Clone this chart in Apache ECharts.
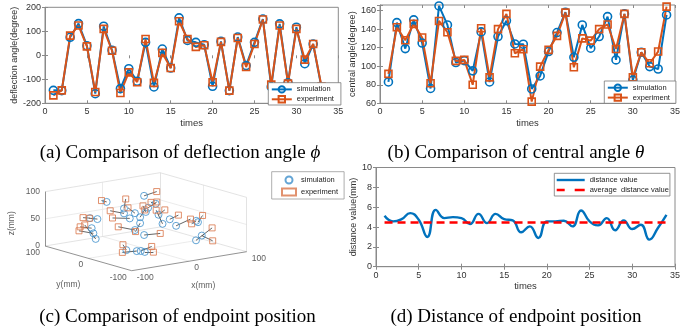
<!DOCTYPE html>
<html>
<head>
<meta charset="utf-8">
<script src="https://cdn.jsdelivr.net/npm/echarts@6/dist/echarts.min.js"></script>
<style>
  html, body { margin: 0; padding: 0; background: #fff; }
  #chart { width: 697px; height: 332px; }
</style>
</head>
<body>
<div id="chart"></div>
<script>
// ---- data ----
const times = [1, 2, 3, 4, 5, 6, 7, 8, 9, 10, 11, 12, 13, 14, 15, 16, 17, 18, 19, 20, 21, 22, 23, 24, 25, 26, 27, 28, 29, 30, 31, 32, 33, 34]

// (a) deflection angle phi (degree)
const deflectionSim = [-146, -147, 75, 132, 40, -160, 121, 21, -139, -56, -108, 54, -132, 26, -53, 156, 62, 54, 44, -129, 58, -147, 76, -43, 54, 151, -132, 131, -115, 117, -35, 47, -135, -150]
const deflectionExp = [-167, -146, 82, 124, 37, -153, 110, 19, -157, -71, -112, 68, -115, 10, -53, 142, 68, 35, 42, -112, 56, -147, 72, -49, 47, 149, -122, 124, -118, 110, -18, 47, -130, -145]

// (b) central angle theta (degree)
const centralSim = [83, 147, 119, 150, 125, 76, 165, 144.5, 104, 106, 95, 137, 83, 132, 149, 124, 123.7, 75.5, 89.5, 115.8, 136.3, 158.2, 109.6, 144.5, 119.4, 132, 153.5, 106.8, 156.4, 85, 115, 99.6, 97, 155.3]
const centralExp = [91.7, 142, 128, 145.6, 130.9, 81.6, 148.8, 136.6, 105.7, 106.8, 80, 141, 88, 140, 156.4, 114, 118.3, 61.8, 99.6, 117.6, 132.7, 157.8, 98.8, 130, 127.6, 140, 145, 118.6, 156.4, 88, 115, 103.2, 115.8, 164.3]

// (c) endpoint positions (mm)
const endSimX = [12, -38, -38, -19, -38, -28, -19, -10, -52, -39, -49, -46, -42, -64, -46, -39, -32, 17, 4, -10, 22, 29, 19, 30, 65, 68, 42, 52, 0, -3]
const endSimY = [20, 40, 0, 0, 0, 0, 0, 0, 60, 60, 60, 60, 60, -40, -40, -40, -40, 0, 0, 0, 0, 0, -30, -30, -30, -30, -60, -60, 0, 0]
const endSimZ = [91, 84, 81, 69, 72, 61, 38, 49, 52, 48, 33, 23, 12, 18, 13, 12, 9, 80, 75, 60, 59, 41, 58, 44, 47, 44, 22, 29, 68, 26]
const endExpX = [34, -47, -35, -31, -62, -58, -48, -18, -64, -53, -69, -71, -61, -70, -71, -20, -17, 9, 19, -2, 33, 18, 34, 55, 57, 76, 70, 71, -5, 25]
const endExpY = [20, 40, 0, 0, 0, 0, 0, 0, 60, 60, 60, 60, 60, -40, -40, -40, -40, 0, 0, 0, 0, 0, -30, -30, -30, -30, -60, -60, 0, 0]
const endExpZ = [95, 88, 98, 81, 81, 67, 49, 35, 55, 52, 39, 32, 41, 29, 15, 17, 6, 84, 83, 72, 66, 68, 63, 52, 43, 55, 40, 16, 80, 24]
const xLim = [-100, 100]
const yLim = [-100, 100]
const zLim = [0, 100]
const xyTicks = [-100, 0, 100]
const zTicks = [0, 50, 100]

// (d) endpoint distance (mm)
const distance = [5.13, 4.57, 4.8, 5.4, 4.73, 3.0, 5.73, 4.9, 5.0, 4.9, 4.3, 5.33, 4.4, 5.33, 4.8, 4.67, 3.47, 4.07, 2.9, 4.57, 4.57, 4.63, 4.07, 5.67, 4.57, 4.17, 4.9, 3.67, 4.67, 3.8, 4.23, 2.73, 3.9, 5.23]
const avgDistance = 4.45

const legendText = {
  'a-sim': 'simulation', 'a-exp': 'experiment',
  'b-sim': 'simulation', 'b-exp': 'experiment',
  'c-sim': 'simulation', 'c-exp': 'experiment',
  'd-dist': 'distance value', 'd-avg': 'average  distance value'
}

// ---- style ----
const BLUE = '#0072BD'
const ORANGE = '#D95319'
const BOX = '#8a8a8a'
const TXT = '#333'
const SANS = '"Liberation Sans", Arial, sans-serif'
const SERIF = '"Liberation Serif", "Times New Roman", serif'

// simple fixed view for the 3D box (pixels per mm)
const view = { cx: 145.85, cy: 248.85, ex: [0.575, -0.095], ey: [-0.4335, -0.1235], ez: [0, -0.543] }
function project(p) {
  return [
    view.cx + view.ex[0] * p[0] + view.ey[0] * p[1] + view.ez[0] * p[2],
    view.cy + view.ex[1] * p[0] + view.ey[1] * p[1] + view.ez[1] * p[2]
  ]
}

const chart = echarts.init(document.getElementById('chart'), null, { renderer: 'canvas' })

function xAxisOf(gridIndex, nameGap) {
  return {
    gridIndex, type: 'value', min: 0, max: 35, interval: 5,
    name: 'times', nameLocation: 'middle', nameGap,
    nameTextStyle: { color: TXT, fontSize: 9.5, fontFamily: SANS },
    axisLine: { onZero: false, lineStyle: { color: BOX, width: 1 } },
    axisTick: { inside: true, length: 3, lineStyle: { color: BOX } },
    axisLabel: { color: TXT, fontSize: 9, fontFamily: SANS, margin: 4 },
    splitLine: { show: false }
  }
}
function yAxisOf(gridIndex, name, min, max, interval, nameGap) {
  return {
    gridIndex, type: 'value', min, max, interval,
    name, nameLocation: 'middle', nameGap,
    nameTextStyle: { color: TXT, fontSize: 9, fontFamily: SANS },
    axisLine: { show: true, lineStyle: { color: BOX, width: 1 } },
    axisTick: { inside: true, length: 3, lineStyle: { color: BOX } },
    axisLabel: {
      color: TXT, fontSize: 9, fontFamily: SANS, margin: 4,
      formatter: v => (Math.abs(v / interval - Math.round(v / interval)) < 1e-6 ? String(v) : '')
    },
    splitLine: { show: false }
  }
}
// mirrored tick marks on the top / right edges (box on)
function mirrorAxis(gridIndex, position, min, max, interval) {
  return {
    gridIndex, type: 'value', position, min, max, interval,
    axisLine: { show: false },
    axisTick: { inside: true, length: 3, lineStyle: { color: BOX } },
    axisLabel: { show: false },
    splitLine: { show: false }
  }
}
function hiddenAxis(gridIndex, max, inverse) {
  return { gridIndex, type: 'value', min: 0, max, inverse, show: false, splitLine: { show: false } }
}

function markerLine(name, xi, values, color, symbol, size) {
  return {
    name, type: 'line', xAxisIndex: xi, yAxisIndex: xi,
    data: times.map((t, i) => [t, values[i]]),
    symbol, symbolSize: size,
    lineStyle: { color, width: 2 },
    itemStyle: { color: 'rgba(255,255,255,0)', borderColor: color, borderWidth: 1.6 },
    emphasis: { disabled: true }, z: 2
  }
}

function legendOf(names, left, top, opts) {
  return Object.assign({
    data: names, left, top, orient: 'vertical', selectedMode: false,
    formatter: n => legendText[n],
    backgroundColor: '#fff', borderColor: '#777', borderWidth: 0.8, borderRadius: 0,
    textStyle: { fontSize: 7.5, color: '#222', fontFamily: SANS },
    itemWidth: 20, itemHeight: 8, itemGap: 1.5, padding: [2.5, 6, 1.5, 2.5], z: 10
  }, opts)
}

// ---- 3D box pieces ----
const X0 = xLim[0], X1 = xLim[1], Y0 = yLim[0], Y1 = yLim[1], Z0 = zLim[0], Z1 = zLim[1]
const backEdges = [
  [[X0, Y1, Z1], [X1, Y1, Z1]], [[X1, Y1, Z1], [X1, Y0, Z1]],
  [[X1, Y1, Z0], [X1, Y1, Z1]], [[X1, Y0, Z0], [X1, Y0, Z1]],
  [[X0, Y1, Z0], [X1, Y1, Z0]], [[X1, Y1, Z0], [X1, Y0, Z0]]
]
const gridEdges = [
  [[0, Y0, Z0], [0, Y1, Z0]], [[X0, 0, Z0], [X1, 0, Z0]],
  [[0, Y1, Z0], [0, Y1, Z1]], [[X0, Y1, 50], [X1, Y1, 50]],
  [[X1, 0, Z0], [X1, 0, Z1]], [[X1, Y1, 50], [X1, Y0, 50]]
]
const axisEdges = [
  [[X0, Y1, Z0], [X0, Y1, Z1]], [[X0, Y1, Z0], [X0, Y0, Z0]], [[X0, Y0, Z0], [X1, Y0, Z0]]
]
const toLines = edges => edges.map(e => ({ coords: [project(e[0]), project(e[1])] }))

const simPts = endSimX.map((x, i) => project([x, endSimY[i], endSimZ[i]]))
const expPts = endExpX.map((x, i) => project([x, endExpY[i], endExpZ[i]]))
const pairLines = simPts.map((p, i) => ({ coords: [p, expPts[i]] }))

const tickLabels = []
zTicks.forEach(z => {
  const p = project([X0, Y1, z])
  tickLabels.push({ value: [p[0] - 5, p[1]], label: { formatter: String(z), align: 'right' } })
})
xyTicks.forEach(y => {
  const p = project([X0, y, Z0])
  tickLabels.push({ value: [p[0] - 5, p[1] + 6.5], label: { formatter: String(y), align: 'right' } })
})
xyTicks.forEach(x => {
  const p = project([x, Y0, Z0])
  tickLabels.push({ value: [p[0] + 5, p[1] + 6.5], label: { formatter: String(x), align: 'left' } })
})
{
  const py = project([X0, 0, Z0]), px = project([0, Y0, Z0]), pz = project([X0, Y1, 50])
  tickLabels.push({ value: [py[0] - 20, py[1] + 26.7], label: { formatter: 'y(mm)', align: 'center' } })
  tickLabels.push({ value: [px[0] + 14, px[1] + 24.5], label: { formatter: 'x(mm)', align: 'center' } })
  tickLabels.push({ value: [pz[0] - 33, pz[1] + 4.4], label: { formatter: 'z(mm)', align: 'center', rotate: 90 } })
}

function caption(x, y, text) {
  return {
    type: 'text', x, y, silent: true,
    style: {
      text, fill: '#000', fontSize: 19, fontFamily: SERIF, align: 'center', verticalAlign: 'middle',
      rich: { i: { fontStyle: 'italic', fontSize: 19, fontFamily: SERIF } }
    }
  }
}

const option = {
  animation: false,
  backgroundColor: '#fff',
  grid: [
    { left: 45, top: 7.3, width: 293.3, height: 96, show: true, borderColor: BOX, borderWidth: 1, backgroundColor: '#fff' },
    { left: 380, top: 5, width: 295, height: 98.3, show: true, borderColor: BOX, borderWidth: 1, backgroundColor: '#fff' },
    { left: 376, top: 167.5, width: 299, height: 99.2, show: true, borderColor: BOX, borderWidth: 1, backgroundColor: '#fff' },
    { left: 0, top: 0, width: 697, height: 332, show: false }
  ],
  xAxis: [
    xAxisOf(0, 15), xAxisOf(1, 15), xAxisOf(2, 14.5), hiddenAxis(3, 697, false),
    mirrorAxis(0, 'top', 0, 35, 5), mirrorAxis(1, 'top', 0, 35, 5), mirrorAxis(2, 'top', 0, 35, 5)
  ],
  yAxis: [
    yAxisOf(0, 'deflection angle(degree)', -200, 200, 100, 23),
    yAxisOf(1, 'central angle(degree)', 60, 166, 20, 18),
    yAxisOf(2, 'distance value(mm)', 0, 10, 2, 14),
    hiddenAxis(3, 332, true),
    mirrorAxis(0, 'right', -200, 200, 100), mirrorAxis(1, 'right', 60, 166, 20), mirrorAxis(2, 'right', 0, 10, 2)
  ],
  legend: [
    legendOf(['a-sim', 'a-exp'], 268.3, 82.7, { padding: [2.5, 7, 1.5, 2.5] }),
    legendOf(['b-sim', 'b-exp'], 604.3, 81, { padding: [2.5, 6, 1.5, 2.5] }),
    legendOf(['c-sim', 'c-exp'], 271.7, 171.7, { itemWidth: 14, itemHeight: 7, itemGap: 3, padding: [3.8, 6, 2.5, 9.3], borderColor: '#999' }),
    legendOf([
      { name: 'd-dist', icon: 'path://M0,0L28,0L28,2.4L0,2.4Z' },
      { name: 'd-avg', icon: 'path://M0,0L8,0L8,2.4L0,2.4Z M18,0L28,0L28,2.4L18,2.4Z' }
    ], 554.3, 173.3, { itemWidth: 28, itemHeight: 8, itemGap: 2, padding: [2.7, 1, 2, 2.4] })
  ],
  graphic: [
    caption(180, 153.3, '(a) Comparison of deflection angle {i|ϕ}'),
    caption(516, 153.3, '(b) Comparison of central angle {i|θ}'),
    caption(177.5, 316.7, '(c) Comparison of endpoint position'),
    caption(516, 316.7, '(d) Distance of endpoint position')
  ],
  series: [
    markerLine('a-sim', 0, deflectionSim, BLUE, 'circle', 8),
    markerLine('a-exp', 0, deflectionExp, ORANGE, 'rect', 7),
    markerLine('b-sim', 1, centralSim, BLUE, 'circle', 8),
    markerLine('b-exp', 1, centralExp, ORANGE, 'rect', 7),
    {
      name: 'd-dist', type: 'line', xAxisIndex: 2, yAxisIndex: 2,
      data: times.map((t, i) => [t, distance[i]]),
      smooth: 0.5, symbol: 'none', lineStyle: { color: BLUE, width: 2.4 }, itemStyle: { color: BLUE }, z: 2
    },
    {
      name: 'd-avg', type: 'line', xAxisIndex: 2, yAxisIndex: 2,
      data: [[times[0], avgDistance], [times[times.length - 1], avgDistance]],
      symbol: 'none', lineStyle: { color: '#FF0000', width: 2.4, type: [8, 5] }, itemStyle: { color: '#FF0000' }, z: 3
    },
    {
      type: 'lines', coordinateSystem: 'cartesian2d', xAxisIndex: 3, yAxisIndex: 3, silent: true,
      data: toLines(gridEdges), lineStyle: { color: '#e6e6e6', width: 0.8, opacity: 1 }, z: 1
    },
    {
      type: 'lines', coordinateSystem: 'cartesian2d', xAxisIndex: 3, yAxisIndex: 3, silent: true,
      data: toLines(backEdges), lineStyle: { color: '#dcdcdc', width: 0.8, opacity: 1 }, z: 1
    },
    {
      type: 'lines', coordinateSystem: 'cartesian2d', xAxisIndex: 3, yAxisIndex: 3, silent: true,
      data: toLines(axisEdges), lineStyle: { color: '#777', width: 0.8, opacity: 1 }, z: 1
    },
    {
      type: 'lines', coordinateSystem: 'cartesian2d', xAxisIndex: 3, yAxisIndex: 3, silent: true,
      data: pairLines, lineStyle: { color: '#222', width: 0.7, opacity: 1 }, z: 2
    },
    {
      name: 'c-sim', type: 'scatter', xAxisIndex: 3, yAxisIndex: 3, data: simPts,
      symbol: 'circle', symbolSize: 7,
      itemStyle: { color: 'rgba(255,255,255,0)', borderColor: '#3d8fcb', borderWidth: 1 }, z: 3
    },
    {
      name: 'c-exp', type: 'scatter', xAxisIndex: 3, yAxisIndex: 3, data: expPts,
      symbol: 'rect', symbolSize: 6,
      itemStyle: { color: 'rgba(255,255,255,0)', borderColor: '#d9764a', borderWidth: 1 }, z: 3
    },
    {
      type: 'scatter', xAxisIndex: 3, yAxisIndex: 3, silent: true, data: tickLabels,
      symbolSize: 1, itemStyle: { color: 'rgba(0,0,0,0)' },
      label: { show: true, position: 'inside', verticalAlign: 'middle', color: TXT, fontSize: 8.5, fontFamily: SANS },
      z: 4
    }
  ]
}

chart.setOption(option)
</script>
</body>
</html>
